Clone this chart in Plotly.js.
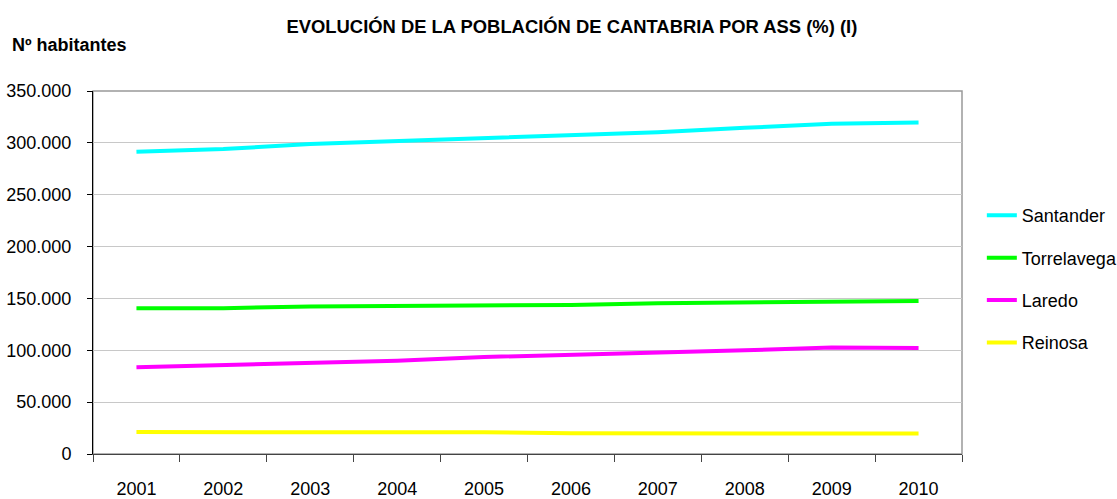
<!DOCTYPE html>
<html>
<head>
<meta charset="utf-8">
<script src="https://cdn.plot.ly/plotly-3.0.1.min.js"></script>
<style>
  html, body { margin: 0; padding: 0; background: #fff; }
  #chart { width: 1117px; height: 499px; }
</style>
</head>
<body>
<div id="chart"></div>
<script>
// Years on the category axis
const years = ['2001', '2002', '2003', '2004', '2005', '2006', '2007', '2008', '2009', '2010'];

// Inhabitants per ASS
const santander   = [291400, 294000, 299000, 302000, 304600, 307500, 310200, 314500, 318500, 319700];
const torrelavega = [140500, 140600, 142200, 142500, 143100, 143700, 145400, 146300, 147600, 147600];
const laredo      = [83600, 85500, 87500, 90000, 93500, 95500, 97800, 100000, 102600, 102300];
const reinosa     = [21100, 21100, 21000, 21000, 20900, 20000, 19900, 19800, 19800, 19700];

const seriesNames  = ['Santander', 'Torrelavega', 'Laredo', 'Reinosa'];
const seriesValues = [santander, torrelavega, laredo, reinosa];
const seriesColors = ['#00ffff', '#00ff00', '#ff00ff', '#ffff00'];

const font = 'Liberation Sans, Arial, sans-serif';

const traces = seriesNames.map((name, i) => ({
    x: years,
    y: seriesValues[i],
    name: name,
    type: 'scatter',
    mode: 'lines',
    legendgroup: name,
    line: { color: seriesColors[i], width: 4 },
    hoverinfo: 'x+y+name'
}));

const layout = {
    width: 1117,
    height: 499,
    paper_bgcolor: '#ffffff',
    plot_bgcolor: '#ffffff',
    separators: ',.',
    margin: { l: 93, r: 155, t: 91, b: 45 },
    font: { family: font, size: 18, color: '#000' },
    title: {
        text: '<b>EVOLUCIÓN DE LA POBLACIÓN DE CANTABRIA POR ASS (%) (I)</b>',
        font: { family: font, size: 18.4, color: '#000' },
        xref: 'container',
        x: 0.512,
        xanchor: 'center',
        yref: 'container',
        y: 0.946,
        yanchor: 'middle'
    },
    xaxis: {
        type: 'category',
        range: [-0.5, 9.5],
        tickson: 'boundaries',
        ticks: 'outside',
        ticklen: 7,
        tickcolor: '#444',
        ticklabelstandoff: 18,
        showline: true,
        linecolor: '#444',
        linewidth: 1,
        showgrid: false,
        zeroline: false,
        tickfont: { family: font, size: 18, color: '#000' },
        automargin: false,
        fixedrange: true
    },
    yaxis: {
        range: [0, 350000],
        tick0: 0,
        dtick: 50000,
        tickformat: ',d',
        ticks: 'outside',
        ticklen: 5,
        tickcolor: '#000',
        ticklabelstandoff: 12,
        showline: true,
        linecolor: '#000',
        linewidth: 1,
        showgrid: true,
        gridcolor: '#c8c8c8',
        gridwidth: 1,
        zeroline: false,
        tickfont: { family: font, size: 18, color: '#000' },
        automargin: false,
        fixedrange: true
    },
    legend: {
        xref: 'container',
        x: 0.879,
        xanchor: 'left',
        y: 0.482,
        yanchor: 'middle',
        font: { family: font, size: 18, color: '#000' },
        tracegroupgap: 16,
        itemwidth: 30,
        bgcolor: 'rgba(0,0,0,0)'
    },
    shapes: [{
        type: 'rect',
        xref: 'paper', yref: 'paper',
        x0: 0, x1: 1, y0: 0, y1: 1,
        line: { color: '#999', width: 1.5 },
        layer: 'below'
    }],
    annotations: [{
        text: '<b>Nº habitantes</b>',
        xref: 'paper', yref: 'paper',
        x: -0.096, xanchor: 'left',
        y: 1.127, yanchor: 'middle',
        showarrow: false,
        font: { family: font, size: 18, color: '#000' }
    }]
};

Plotly.newPlot('chart', traces, layout, { displayModeBar: false, responsive: false });
</script>
</body>
</html>
